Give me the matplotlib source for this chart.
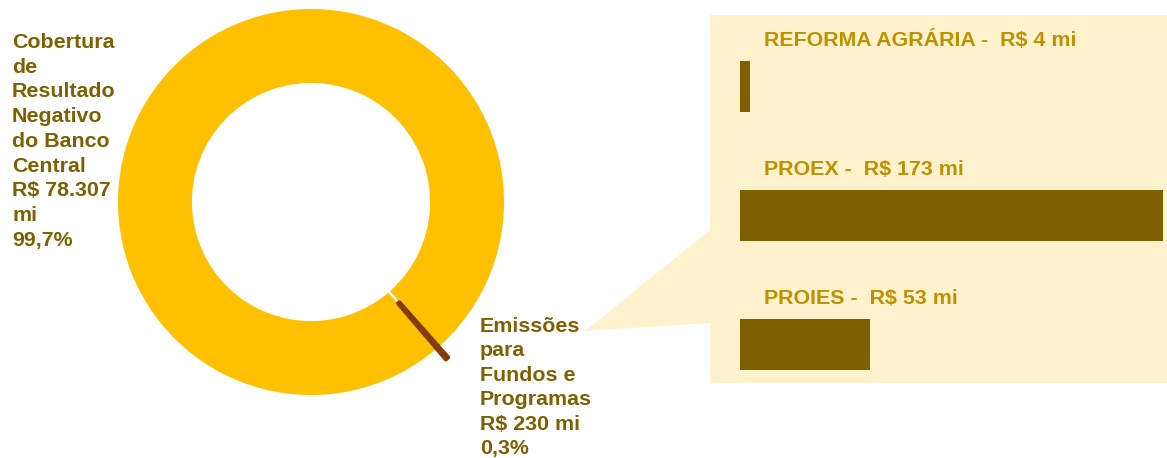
import textwrap
import numpy as np
import matplotlib.pyplot as plt
from matplotlib.patches import Rectangle, Polygon

plt.rcParams['font.family'] = ['Liberation Sans', 'DejaVu Sans']
plt.rcParams['font.weight'] = 'bold'

# dados
pie_labels = ['Cobertura de Resultado Negativo do Banco Central',
              'Emissões para Fundos e Programas']
pie_values = [78307, 230]
bar_labels = ['REFORMA AGRÁRIA', 'PROEX', 'PROIES']
bar_values = [4, 173, 53]

W, H = 1167, 458
YELLOW = '#FFC000'
BROWN = '#843C0C'
OLIVE = '#7F6000'
GOLD = '#BF9000'
PANEL = '#FFF2CC'


def fx(px):
	return px / W


def fy(py):
	return 1 - py / H


def money(v):
	return 'R$ ' + format(v, ',').replace(',', '.') + ' mi'


def pct(v, total):
	return format(100.0 * v / total, '.1f').replace('.', ',') + '%'


fig = plt.figure(figsize=(W / 100, H / 100), dpi=100)

# painel de detalhe + seta
fig.patches.append(Rectangle((fx(710), fy(383)), fx(457), 368 / H,
	transform=fig.transFigure, facecolor=PANEL, edgecolor='none', zorder=-1))
fig.patches.append(Polygon([(fx(585), fy(331)), (fx(710), fy(230)), (fx(710), fy(323))],
	closed=True, transform=fig.transFigure, facecolor=PANEL, edgecolor='none', zorder=-1))

# rosca
ax1 = fig.add_axes([fx(118), fy(395), fx(386), 386 / H])
wedges, _ = ax1.pie(pie_values, colors=[YELLOW, BROWN], startangle=-48.46,
	explode=[0, 0.075], wedgeprops=dict(width=0.383, linewidth=0))
wedges[1].set_edgecolor(BROWN)
wedges[1].set_linewidth(2.6)
wedges[1].set_joinstyle('round')
ax1.set_xlim(-1, 1)
ax1.set_ylim(-1, 1)

total = sum(pie_values)
texts = []
for lab, v in zip(pie_labels, pie_values):
	texts.append('\n'.join(textwrap.wrap(lab + ' ' + money(v), 9)) + '\n' + pct(v, total))

fig.text(fx(12), fy(33), texts[0], ha='left', va='top', fontsize=15.4,
	color=OLIVE, linespacing=1.38)
fig.text(fx(480), fy(317), texts[1], ha='left', va='top', fontsize=15.4,
	color=OLIVE, linespacing=1.36)

# barras
ax2 = fig.add_axes([fx(740), fy(409), fx(423), 387 / H])
idx = np.arange(len(bar_values))
ax2.barh(idx, bar_values, height=0.403, color=OLIVE)
ax2.set_xlim(0, max(bar_values))
ax2.set_ylim(len(bar_values) - 0.5, -0.5)
ax2.axis('off')
for i in range(len(bar_values)):
	ax2.text(10, i - 0.36, bar_labels[i] + ' -  ' + money(bar_values[i]),
		ha='left', va='center', fontsize=15.4, color=GOLD)

fig.savefig('out.png', dpi=100)
